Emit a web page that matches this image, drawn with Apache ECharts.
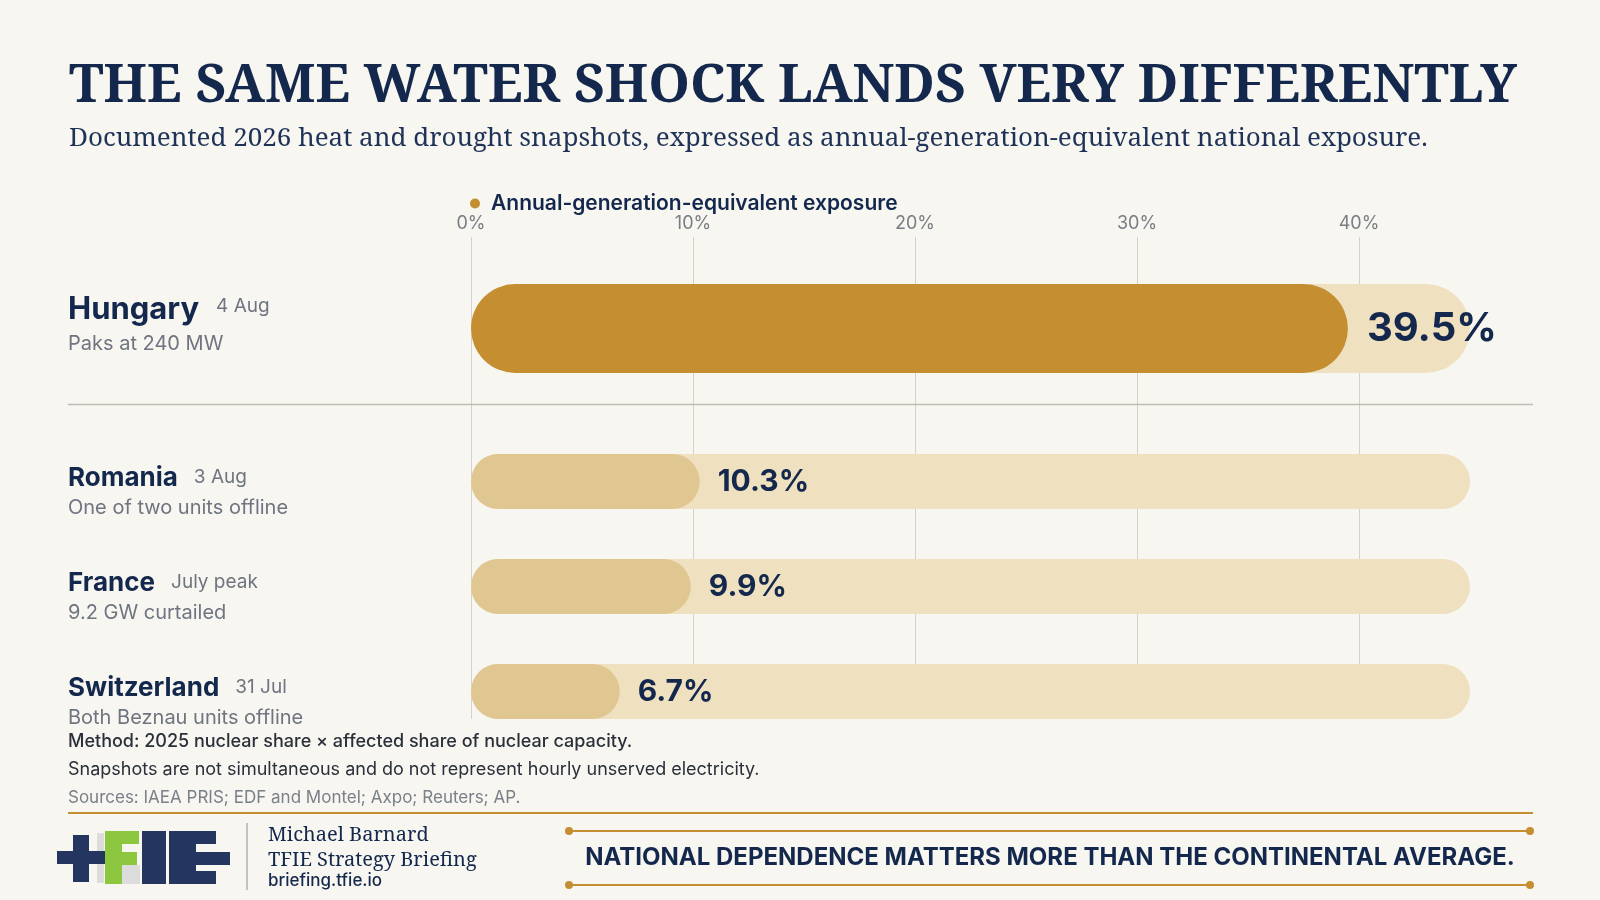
<!DOCTYPE html>
<html>
<head>
<meta charset="utf-8">
<title>The same water shock lands very differently</title>
<script src="https://cdn.jsdelivr.net/npm/echarts@6/dist/echarts.min.js"></script>
<style>
  html, body { margin: 0; padding: 0; background: #F7F6F1; }
  #chart { width: 1600px; height: 900px; }
</style>
</head>
<body>
<div id="chart"></div>
<script>
// data
var countries = ['Hungary', 'Romania', 'France', 'Switzerland'];
var snapDates = ['4 Aug', '3 Aug', 'July peak', '31 Jul'];
var notes = ['Paks at 240 MW', 'One of two units offline', '9.2 GW curtailed', 'Both Beznau units offline'];
var exposure = [39.5, 10.3, 9.9, 6.7];
var axisMax = 45;      // track length
var axisStep = 10;
var seriesName = 'Annual-generation-equivalent exposure';

var NAVY = '#13284C';
var GOLD = '#C48E31';
var TRACK = '#EFE0BF';
var SOFT = '#E0C690';
var GREY = '#6F7480';
var SANS = 'Inter, "Noto Sans", sans-serif';
var SERIF = '"Noto Serif", "DejaVu Serif", serif';

var chart = echarts.init(document.getElementById('chart'));

var left = 471, right = 130;

function rowLabel(idx) {
  return '{name|' + countries[idx] + '}{date|' + snapDates[idx] + '}\n{sub|' + notes[idx] + '}';
}

function xAx(gridIndex, show) {
  return {
    type: 'value', gridIndex: gridIndex, min: 0, max: axisMax, interval: axisStep,
    position: 'top', show: show,
    axisLine: { show: false }, axisTick: { show: false },
    axisLabel: {
      show: show, margin: 4, color: '#7A7D84', fontFamily: SANS, fontSize: 18,
      formatter: function (v) { return v % axisStep === 0 ? v + '%' : ''; }
    },
    splitLine: {
      show: show,
      lineStyle: { color: ['#D4D1CA', '#D4D1CA', '#D4D1CA', '#D4D1CA', '#D4D1CA', 'rgba(0,0,0,0)'], width: 1 }
    }
  };
}

var top3 = countries.slice(1);

var option = {
  backgroundColor: '#F7F6F1',
  animation: false,
  title: [
    {
      text: 'THE SAME WATER SHOCK LANDS VERY DIFFERENTLY',
      left: 64, top: 55,
      textStyle: { fontFamily: SERIF, fontSize: 53, fontWeight: 'bold', color: NAVY }
    },
    {
      text: 'Documented 2026 heat and drought snapshots, expressed as annual-generation-equivalent national exposure.',
      left: 64, top: 121,
      textStyle: { fontFamily: SERIF, fontSize: 26, fontWeight: 'normal', color: '#1F3358' }
    }
  ],
  legend: {
    data: [seriesName],
    left: 465, top: 188,
    icon: 'circle', itemWidth: 22, itemHeight: 10, itemGap: 5,
    textStyle: { fontFamily: SANS, fontSize: 21, fontWeight: 600, color: NAVY }
  },
  grid: [
    { left: left, right: right, top: 237, height: 183 },
    { left: left, right: right, top: 429, height: 315 },
    { left: left, right: right, top: 237, bottom: 181 }
  ],
  xAxis: [xAx(0, false), xAx(1, false), xAx(2, true)],
  yAxis: [
    {
      type: 'category', gridIndex: 0, data: [countries[0]],
      axisLine: { show: false }, axisTick: { show: false },
      axisLabel: {
        align: 'left', margin: left - 68,
        formatter: function () { return rowLabel(0); },
        rich: {
          name: { fontFamily: SANS, fontSize: 31, fontWeight: 'bold', color: NAVY, lineHeight: 31 },
          date: { fontFamily: SANS, fontSize: 19, color: GREY, lineHeight: 31, padding: [0, 0, 8, 17] },
          sub: { fontFamily: SANS, fontSize: 20, color: GREY, lineHeight: 37 }
        }
      }
    },
    {
      type: 'category', gridIndex: 1, data: top3, inverse: true,
      axisLine: { show: false }, axisTick: { show: false },
      axisLabel: {
        align: 'left', margin: left - 68,
        formatter: function (v, i) { return rowLabel(i + 1); },
        rich: {
          name: { fontFamily: SANS, fontSize: 26, fontWeight: 'bold', color: NAVY, lineHeight: 53 },
          date: { fontFamily: SANS, fontSize: 19, color: GREY, lineHeight: 53, padding: [0, 0, 3, 16] },
          sub: { fontFamily: SANS, fontSize: 20, color: GREY, lineHeight: 6 }
        }
      }
    },
    { type: 'value', gridIndex: 2, show: false }
  ],
  series: [
    {
      name: 'track', type: 'bar', xAxisIndex: 0, yAxisIndex: 0, silent: true,
      data: [axisMax], barWidth: 89, barGap: '-100%',
      itemStyle: { color: TRACK, borderRadius: 44.5 }
    },
    {
      name: seriesName, type: 'bar', xAxisIndex: 0, yAxisIndex: 0,
      data: [exposure[0]], barWidth: 89,
      itemStyle: { color: GOLD, borderRadius: 44.5 },
      label: {
        show: true, position: 'right', distance: 19,
        formatter: '{c}%', fontFamily: SANS, fontSize: 40, fontWeight: 'bold', color: NAVY
      }
    },
    {
      name: 'track', type: 'bar', xAxisIndex: 1, yAxisIndex: 1, silent: true,
      data: top3.map(function () { return axisMax; }), barWidth: 55, barGap: '-100%',
      itemStyle: { color: TRACK, borderRadius: 27.5 }
    },
    {
      name: seriesName, type: 'bar', xAxisIndex: 1, yAxisIndex: 1,
      data: exposure.slice(1), barWidth: 55,
      itemStyle: { color: SOFT, borderRadius: 27.5 },
      label: {
        show: true, position: 'right', distance: 18,
        formatter: '{c}%', fontFamily: SANS, fontSize: 30, fontWeight: 'bold', color: NAVY
      }
    }
  ],
  graphic: [
    // separator under the Hungary row
    { type: 'line', shape: { x1: 68, y1: 404.5, x2: 1533, y2: 404.5 }, style: { stroke: '#BEBBB4', lineWidth: 1.5 }, z: 1 },
    // notes
    { type: 'text', left: 68, top: 733, style: { text: 'Method: 2025 nuclear share \u00d7 affected share of nuclear capacity.', font: '500 18px ' + SANS, fill: '#2A2F3A' } },
    { type: 'text', left: 68, top: 761, style: { text: 'Snapshots are not simultaneous and do not represent hourly unserved electricity.', font: '18px ' + SANS, fill: '#2A2F3A' } },
    { type: 'text', left: 68, top: 789, style: { text: 'Sources: IAEA PRIS; EDF and Montel; Axpo; Reuters; AP.', font: '17px ' + SANS, fill: '#7A7F88' } },
    { type: 'line', shape: { x1: 68, y1: 813, x2: 1533, y2: 813 }, style: { stroke: GOLD, lineWidth: 2 } },
    // logo
    { type: 'group', left: 57, top: 831, children: [
      { type: 'rect', shape: { x: 40, y: 2, width: 7, height: 50 }, style: { fill: '#DCDCDC' } },
      { type: 'rect', shape: { x: 65, y: 34, width: 18, height: 19 }, style: { fill: '#DCDCDC' } },
      { type: 'rect', shape: { x: 0, y: 20, width: 48, height: 13 }, style: { fill: '#24365F' } },
      { type: 'rect', shape: { x: 16, y: 4, width: 16, height: 47 }, style: { fill: '#24365F' } },
      { type: 'rect', shape: { x: 48, y: 0, width: 17, height: 53 }, style: { fill: '#8DC63F' } },
      { type: 'rect', shape: { x: 48, y: 0, width: 34, height: 13 }, style: { fill: '#8DC63F' } },
      { type: 'rect', shape: { x: 48, y: 21, width: 32, height: 13 }, style: { fill: '#8DC63F' } },
      { type: 'rect', shape: { x: 85, y: 0, width: 24, height: 53 }, style: { fill: '#24365F' } },
      { type: 'rect', shape: { x: 112, y: 0, width: 27, height: 53 }, style: { fill: '#24365F' } },
      { type: 'rect', shape: { x: 139, y: 0, width: 20, height: 13 }, style: { fill: '#24365F' } },
      { type: 'rect', shape: { x: 139, y: 21, width: 34, height: 13 }, style: { fill: '#24365F' } },
      { type: 'rect', shape: { x: 139, y: 40, width: 20, height: 13 }, style: { fill: '#24365F' } }
    ] },
    { type: 'line', shape: { x1: 247, y1: 823, x2: 247, y2: 890 }, style: { stroke: '#B5B2AC', lineWidth: 1.5 } },
    { type: 'text', left: 268, top: 825, style: { text: 'Michael Barnard', font: '20px ' + SERIF, fill: NAVY } },
    { type: 'text', left: 268, top: 850, style: { text: 'TFIE Strategy Briefing', font: '20px ' + SERIF, fill: NAVY } },
    { type: 'text', left: 268, top: 872, style: { text: 'briefing.tfie.io', font: '500 17px ' + SANS, fill: NAVY } },
    // closing banner
    { type: 'line', shape: { x1: 569, y1: 831, x2: 1530, y2: 831 }, style: { stroke: GOLD, lineWidth: 2 } },
    { type: 'line', shape: { x1: 569, y1: 885, x2: 1530, y2: 885 }, style: { stroke: GOLD, lineWidth: 2 } },
    { type: 'circle', shape: { cx: 569, cy: 831, r: 4 }, style: { fill: GOLD } },
    { type: 'circle', shape: { cx: 1530, cy: 831, r: 4 }, style: { fill: GOLD } },
    { type: 'circle', shape: { cx: 569, cy: 885, r: 4 }, style: { fill: GOLD } },
    { type: 'circle', shape: { cx: 1530, cy: 885, r: 4 }, style: { fill: GOLD } },
    { type: 'text', x: 1050, y: 858, style: { text: 'NATIONAL DEPENDENCE MATTERS MORE THAN THE CONTINENTAL AVERAGE.', font: 'bold 24px ' + SANS, fill: NAVY, align: 'center', verticalAlign: 'middle' } }
  ]
};

chart.setOption(option);
</script>
</body>
</html>
